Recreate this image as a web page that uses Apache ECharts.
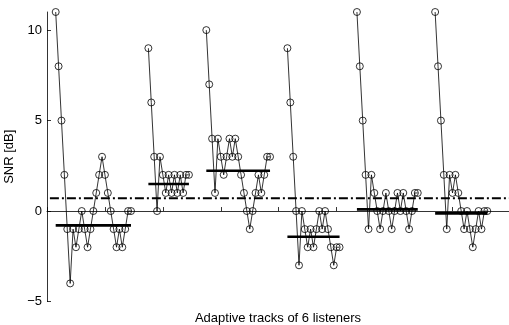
<!DOCTYPE html>
<html>
<head>
<meta charset="utf-8">
<script src="https://cdn.jsdelivr.net/npm/echarts@6/dist/echarts.min.js"></script>
<style>
html,body{margin:0;padding:0;background:#fff;}
#chart{width:509px;height:325px;}
</style>
</head>
<body>
<div id="chart"></div>
<script>
// Adaptive SNR tracks (dB) of 6 listeners
const track1 = [11,8,5,2,-1,-4,-1,-2,-1,0,-1,-2,-1,0,1,2,3,2,1,0,-1,-2,-1,-2,-1,0,0];
const track2 = [9,6,3,0,3,2,1,2,1,2,1,2,1,2,2];
const track3 = [10,7,4,1,4,3,2,3,4,3,4,3,2,1,0,-1,0,1,2,1,2,3,3];
const track4 = [9,6,3,0,-3,0,-1,-2,-1,-2,-1,0,-1,0,-1,-2,-3,-2,-2];
const track5 = [11,8,5,2,-1,2,1,0,-1,0,1,0,-1,0,1,0,1,0,-1,0,1,1];
const track6 = [11,8,5,2,-1,2,1,2,1,0,-1,0,-1,-2,-1,0,-1,0,0];
const tracks = [track1, track2, track3, track4, track5, track6];
const trackMeans = [-0.79, 1.49, 2.23, -1.42, 0.09, -0.13];
const overallLevel = 0.70;
const firstTrial = 3;
const trialGap = 6;
const yTicks = [-5, 0, 5, 10];

const FONT = 'Liberation Sans, Arial, sans-serif';
const series = [];
let start = firstTrial;
const spans = [];
tracks.forEach((t) => {
  const data = t.map((v, i) => [start + i, v]);
  spans.push([start, start + t.length - 1]);
  series.push({
    type: 'line',
    data: data,
    symbol: 'circle',
    symbolSize: 7,
    showSymbol: true,
    itemStyle: { color: 'rgba(0,0,0,0)', borderColor: '#000', borderWidth: 0.8 },
    lineStyle: { color: '#000', width: 0.8 },
    z: 2,
    silent: true
  });
  start += t.length - 1 + trialGap;
});
trackMeans.forEach((m, k) => {
  series.push({
    type: 'line',
    data: [[spans[k][0], m], [spans[k][1], m]],
    symbol: 'none',
    lineStyle: { color: '#000', width: 2.6 },
    z: 3,
    silent: true
  });
});
series.push({
  type: 'line',
  data: [[1, overallLevel], [159.5, overallLevel]],
  symbol: 'none',
  lineStyle: { color: '#000', width: 2, type: [9, 3, 2, 3] },
  z: 1,
  silent: true
});

const chart = echarts.init(document.getElementById('chart'), null, { renderer: 'canvas' });
chart.setOption({
  animation: false,
  backgroundColor: '#fff',
  grid: { left: 47, right: 0, top: 12, bottom: 23.5, containLabel: false, outerBoundsMode: 'none' },
  xAxis: {
    type: 'value',
    min: 0, max: 159.5, interval: 20,
    name: 'Adaptive tracks of 6 listeners',
    nameLocation: 'middle',
    nameGap: 10,
    nameTextStyle: { fontFamily: FONT, fontSize: 13, color: '#000' },
    axisLine: { show: true, lineStyle: { color: '#000', width: 0.8 } },
    axisTick: { show: true, inside: true, length: 4, lineStyle: { color: '#000', width: 0.8 } },
    axisLabel: { show: false },
    splitLine: { show: false }
  },
  yAxis: {
    type: 'value',
    min: -5, max: 11, interval: 5,
    name: 'SNR [dB]',
    nameLocation: 'middle',
    nameGap: 25,
    nameRotate: 90,
    nameTextStyle: { fontFamily: FONT, fontSize: 13, color: '#000' },
    axisLine: { show: true, lineStyle: { color: '#000', width: 0.8 } },
    axisTick: { show: true, inside: true, length: 4, lineStyle: { color: '#000', width: 0.8 } },
    axisLabel: {
      margin: 5,
      fontFamily: FONT, fontSize: 13, color: '#000',
      showMaxLabel: false,
      formatter: function (v) { return yTicks.indexOf(v) >= 0 ? String(v).replace('-', '\u2212') : ''; }
    },
    splitLine: { show: false }
  },
  series: series
});
</script>
</body>
</html>
